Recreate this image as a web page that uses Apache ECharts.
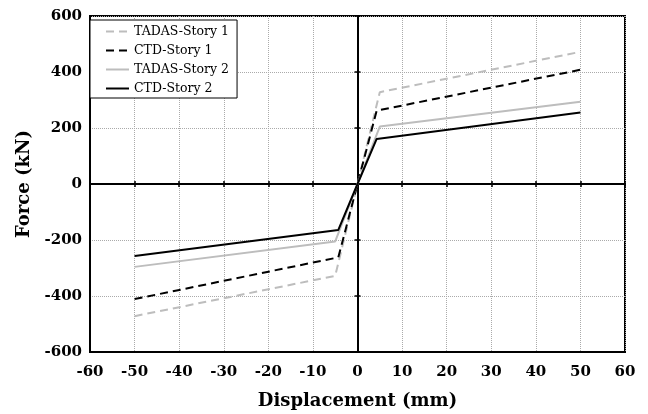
<!DOCTYPE html>
<html><head><meta charset="utf-8">
<script src="https://cdn.jsdelivr.net/npm/echarts@6/dist/echarts.min.js"></script>
<style>html,body{margin:0;padding:0;background:#fff}#c{width:648px;height:414px}</style>
</head><body><div id="c"></div>
<script>
const seriesNames = ['TADAS-Story 1', 'CTD-Story 1', 'TADAS-Story 2', 'CTD-Story 2'];
const dispTADAS1 = [-50, -5, 0, 5, 50];
const forceTADAS1 = [-472, -328, 0, 328, 472];
const dispCTD1 = [-50, -4.3, 0, 4.3, 50];
const forceCTD1 = [-411, -262, 0, 262, 408];
const dispTADAS2 = [-50, -5, 0, 5, 50];
const forceTADAS2 = [-296, -205, 0, 205, 294];
const dispCTD2 = [-50, -4.3, 0, 4.3, 50];
const forceCTD2 = [-257, -164, 0, 161, 255];

const FONT = 'DejaVu Serif';
const GRAY = '#bdbdbd';
const DASH = [8, 5];
const zip = (a, b) => a.map((v, i) => [v, b[i]]);
const G = {left: 90, right: 23, top: 16, bottom: 62, outerBoundsMode: 'none', containLabel: false};
const xBase = {type: 'value', min: -60, max: 60, interval: 10};
const yBase = {type: 'value', min: -600, max: 600, interval: 200};

const legendStyles = [
  {color: GRAY, type: DASH}, {color: '#000', type: DASH},
  {color: GRAY, type: 'solid'}, {color: '#000', type: 'solid'}
];

const chart = echarts.init(document.getElementById('c'));
chart.setOption({
  animation: false,
  grid: [
    Object.assign({show: true, borderColor: '#000', borderWidth: 2, backgroundColor: 'transparent'}, G),
    Object.assign({}, G)
  ],
  legend: {
    data: seriesNames.map((n, i) => ({name: n, lineStyle: {color: legendStyles[i].color, type: legendStyles[i].type, width: 2}})),
    orient: 'vertical', left: 90, top: 20,
    backgroundColor: '#fff', borderColor: '#000', borderWidth: 1, borderRadius: 0,
    padding: [5, 8, 3, 15], itemGap: 6, itemWidth: 23, itemHeight: 14,
    itemStyle: {opacity: 0},
    textStyle: {fontFamily: FONT, fontSize: 12.5, color: '#000'}
  },
  xAxis: [
    Object.assign({}, xBase, {gridIndex: 0, position: 'bottom', axisLine: {show: true, onZero: false, lineStyle: {color: '#000', width: 2}},
      axisTick: {show: false},
      axisLabel: {fontFamily: FONT, fontWeight: 'bold', fontSize: 15, color: '#000', margin: 13},
      splitLine: {show: true, lineStyle: {color: '#aaa', type: 'dotted', width: 1}},
      name: 'Displacement (mm)', nameLocation: 'middle', nameGap: 40,
      nameTextStyle: {fontFamily: FONT, fontWeight: 'bold', fontSize: 18, color: '#000'}}),
    Object.assign({}, xBase, {gridIndex: 0, position: 'top', axisLine: {show: true, onZero: true, lineStyle: {color: '#000', width: 2}},
      axisTick: {show: true, length: 3, lineStyle: {color: '#000', width: 1.5}},
      axisLabel: {show: false}, splitLine: {show: false}}),
    Object.assign({}, xBase, {gridIndex: 1, position: 'bottom', axisLine: {show: false, onZero: true},
      axisTick: {show: true, length: 3, lineStyle: {color: '#000', width: 1.5}},
      axisLabel: {show: false}, splitLine: {show: false}})
  ],
  yAxis: [
    Object.assign({}, yBase, {gridIndex: 0, position: 'left', axisLine: {show: true, onZero: false, lineStyle: {color: '#000', width: 2}},
      axisTick: {show: false},
      axisLabel: {fontFamily: FONT, fontWeight: 'bold', fontSize: 15, color: '#000', margin: 8},
      splitLine: {show: true, lineStyle: {color: '#aaa', type: 'dotted', width: 1}},
      name: 'Force (kN)', nameLocation: 'middle', nameGap: 45,
      nameTextStyle: {fontFamily: FONT, fontWeight: 'bold', fontSize: 18, color: '#000'}}),
    Object.assign({}, yBase, {gridIndex: 0, position: 'right', axisLine: {show: true, onZero: true, lineStyle: {color: '#000', width: 2}},
      axisTick: {show: true, length: 3, lineStyle: {color: '#000', width: 1.5}},
      axisLabel: {show: false}, splitLine: {show: false}}),
    Object.assign({}, yBase, {gridIndex: 1, position: 'left', axisLine: {show: false, onZero: true},
      axisTick: {show: true, length: 3, lineStyle: {color: '#000', width: 1.5}},
      axisLabel: {show: false}, splitLine: {show: false}})
  ],
  series: [
    {name: seriesNames[0], type: 'line', data: zip(dispTADAS1, forceTADAS1), symbol: 'none', color: GRAY,
      lineStyle: {color: GRAY, width: 2, type: DASH}},
    {name: seriesNames[1], type: 'line', data: zip(dispCTD1, forceCTD1), symbol: 'none', color: '#000',
      lineStyle: {color: '#000', width: 2, type: DASH}},
    {name: seriesNames[2], type: 'line', data: zip(dispTADAS2, forceTADAS2), symbol: 'none', color: GRAY,
      lineStyle: {color: GRAY, width: 2}},
    {name: seriesNames[3], type: 'line', data: zip(dispCTD2, forceCTD2), symbol: 'none', color: '#000',
      lineStyle: {color: '#000', width: 2}}
  ]
});
</script></body></html>
